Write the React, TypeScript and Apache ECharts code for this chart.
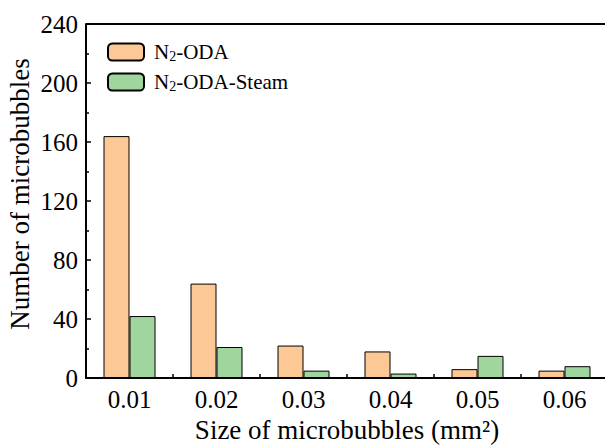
import React, { useEffect, useRef } from "react";
import * as echarts from "echarts";

const categories = ["0.01", "0.02", "0.03", "0.04", "0.05", "0.06"];
const odaValues = [164, 64, 22, 18, 6, 5];
const steamValues = [42, 21, 5, 3, 15, 8];
const seriesNames = ["N2-ODA", "N2-ODA-Steam"];
const yTicks = { min: 0, max: 240, interval: 40 };

const FONT = "Liberation Serif";

export default function App() {
  const ref = useRef<HTMLDivElement>(null);

  useEffect(() => {
    if (!ref.current) return;
    const chart = echarts.init(ref.current, null, { renderer: "svg" });

    // "N" + subscript "2" + rest of the series name
    const legendRich = {
      n: { fontFamily: FONT, fontSize: 21, lineHeight: 22, color: "#000" },
      s: { fontFamily: FONT, fontSize: 14, lineHeight: 14, color: "#000", padding: [8, 0, 0, 0] },
    };

    chart.setOption({
      animation: false,
      backgroundColor: "#fff",
      textStyle: { fontFamily: FONT, color: "#000" },
      grid: { left: 86, top: 24, width: 522, height: 354, outerBoundsMode: "none", containLabel: false },
      legend: {
        orient: "vertical",
        left: 107,
        top: 41,
        padding: 0,
        itemWidth: 36,
        itemHeight: 17,
        itemGap: 8,
        data: seriesNames,
        formatter: (name: string) => {
          const rest = name.slice(2);
          return `{n|N}{s|2}{n|${rest}}`;
        },
        textStyle: { fontFamily: FONT, fontSize: 21, rich: legendRich, padding: [0, 0, 0, 5] },
      },
      xAxis: [
        {
          type: "category",
          data: categories,
          position: "bottom",
          axisLine: { show: true, lineStyle: { color: "#000", width: 2 } },
          axisTick: { show: true, inside: true, length: 4, alignWithLabel: false, lineStyle: { color: "#000", width: 1.5 } },
          axisLabel: { fontFamily: FONT, fontSize: 25, color: "#000", margin: 9 },
          splitLine: { show: false },
          name: "Size of microbubbles (mm²)",
          nameLocation: "middle",
          nameGap: 37,
          nameTextStyle: { fontFamily: FONT, fontSize: 27, color: "#000" },
        },
      ],
      yAxis: {
        type: "value",
        min: yTicks.min,
        max: yTicks.max,
        interval: yTicks.interval,
        axisLine: { show: true, lineStyle: { color: "#000", width: 2 } },
        axisTick: { show: true, inside: true, length: 5, lineStyle: { color: "#000", width: 1.5 } },
        minorTick: { show: true, splitNumber: 2, length: 3, lineStyle: { color: "#000", width: 1.5 } },
        splitLine: { show: false },
        axisLabel: { fontFamily: FONT, fontSize: 25, color: "#000", margin: 8 },
      },
      graphic: [
        {
          type: "line",
          shape: { x1: 86, y1: 24, x2: 605, y2: 24 },
          style: { stroke: "#000", lineWidth: 2 },
        },
        {
          type: "text",
          x: 20,
          y: 194,
          rotation: Math.PI / 2,
          style: {
            text: "Number of microbubbles",
            fontFamily: FONT,
            fontSize: 27,
            fill: "#000",
            align: "center",
            verticalAlign: "middle",
          },
        },
      ],
      series: [
        {
          name: seriesNames[0],
          type: "bar",
          data: odaValues,
          barWidth: 26,
          barGap: "0%",
          itemStyle: { color: "#FBC896", borderColor: "#000", borderWidth: 1 },
        },
        {
          name: seriesNames[1],
          type: "bar",
          data: steamValues,
          barWidth: 26,
          barGap: "0%",
          itemStyle: { color: "#A0D69E", borderColor: "#000", borderWidth: 1 },
        },
      ],
    });

    return () => chart.dispose();
  }, []);

  return (
    <div ref={ref} style={{ position: "fixed", left: 0, top: 0, width: 605, height: 445 }} />
  );
}
